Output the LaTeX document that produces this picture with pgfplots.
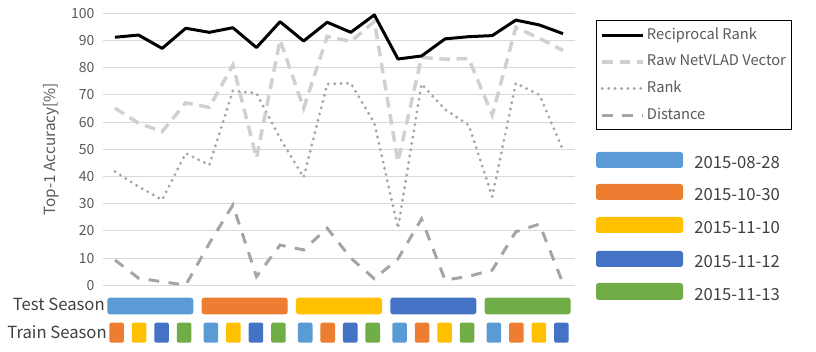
\documentclass[border=0pt]{standalone}
\usepackage{pgfplots}
\pgfplotsset{compat=1.18}
\usepackage{pgfplotstable}
\usepackage{fontspec}
\setmainfont{Noto Sans CJK JP}
\definecolor{cBlue}{HTML}{5B9BD5}
\definecolor{cOrange}{HTML}{ED7D31}
\definecolor{cYellow}{HTML}{FFC000}
\definecolor{cDBlue}{HTML}{4472C4}
\definecolor{cGreen}{HTML}{70AD47}
\definecolor{gridgray}{HTML}{D9D9D9}
\definecolor{tickgray}{HTML}{595959}
\definecolor{textgray}{HTML}{404040}
\definecolor{rawgray}{HTML}{D0D0D0}
\definecolor{rankgray}{HTML}{A5A5A5}
\definecolor{distgray}{HTML}{A5A5A5}
\pgfplotstableread{
x rr raw rank dist
0 91.2 65.1 41.8 9.3
1 92.0 59.6 36.3 2.6
2 87.1 56.5 31.4 1.3
3 94.5 67.1 48.5 0.1
4 93.0 65.4 44.2 15.4
5 94.7 81.0 71.5 29.5
6 87.4 46.8 70.6 3.2
7 96.9 90.2 54.0 14.8
8 89.8 65.1 39.7 13.0
9 96.7 91.5 74.0 21.0
10 93.0 89.6 74.3 10.0
11 99.4 97.0 59.6 2.4
12 83.2 45.4 21.0 9.7
13 84.3 83.8 74.0 24.4
14 90.6 83.1 64.6 1.9
15 91.4 83.4 58.9 3.3
16 91.8 62.6 32.6 5.6
17 97.5 94.8 74.3 19.7
18 95.7 90.8 70.0 22.5
19 92.5 86.3 49.7 0.7
}\data
\begin{document}
\begin{tikzpicture}
\begin{scope}[x=0.75pt,y=0.75pt]
\path[use as bounding box] (0,0) rectangle (816,352);
\end{scope}
\begin{axis}[
  at={(77.4pt,50.03pt)}, anchor=south west,
  scale only axis, width=353.7pt, height=204pt,
  xmin=-0.5, xmax=19.5, ymin=0, ymax=100,
  axis line style={draw=none},
  xtick=\empty,
  ytick={0,10,...,100},
  ymajorgrids, grid style={draw=gridgray, line width=0.75pt},
  major tick length=0pt,
  /pgf/number format/assume math mode=true,
  yticklabel style={font=\fontsize{10.5}{12}\selectfont, text=tickgray, xshift=-3pt},
  ylabel={Top-1 Accuracy[\%]},
  ylabel style={at={(axis description cs:-0.1107,0.5)}, anchor=center, font=\fontsize{11.5}{13}\selectfont, text=tickgray},
  clip=false,
  reverse legend,
  legend cell align=left,
  legend image code/.code={\draw[#1] (0pt,0pt) -- (30.75pt,0pt);},
  legend style={at={(rel axis cs:1.045,0.9754)}, anchor=north west, draw=black, line width=0.75pt,
    font=\fontsize{11}{13}\selectfont, text=tickgray, row sep=6pt, inner xsep=3pt, inner ysep=4pt,
    nodes={inner sep=1.5pt, text height=8.5pt, text depth=2.5pt}},
]
\addplot[draw=distgray, line width=2.25pt, dash pattern=on 8pt off 7pt] table[x=x,y=dist]{\data};
\addlegendentry{Distance}
\addplot[draw=rankgray, line width=2.4pt, line cap=round, dash pattern=on 0pt off 4.8pt] table[x=x,y=rank]{\data};
\addlegendentry{Rank}
\addplot[draw=rawgray, line width=2.6pt, dash pattern=on 8pt off 5pt] table[x=x,y=raw]{\data};
\addlegendentry{Raw NetVLAD Vector}
\addplot[draw=black, line width=2.25pt, line join=round] table[x=x,y=rr]{\data};
\addlegendentry{Reciprocal Rank}
% test season bars
\fill[cBlue, rounded corners=2pt] (axis cs:-0.325,-4.56) rectangle (axis cs:3.325,-10.66);
\fill[cOrange, rounded corners=2pt] (axis cs:3.675,-4.56) rectangle (axis cs:7.325,-10.66);
\fill[cYellow, rounded corners=2pt] (axis cs:7.675,-4.56) rectangle (axis cs:11.325,-10.66);
\fill[cDBlue, rounded corners=2pt] (axis cs:11.675,-4.56) rectangle (axis cs:15.325,-10.66);
\fill[cGreen, rounded corners=2pt] (axis cs:15.675,-4.56) rectangle (axis cs:19.325,-10.66);
% train season squares
\fill[cOrange, rounded corners=1.5pt] (axis cs:-0.241,-13.75) rectangle (axis cs:0.379,-21.1);
\fill[cYellow, rounded corners=1.5pt] (axis cs:0.713,-13.75) rectangle (axis cs:1.333,-21.1);
\fill[cDBlue, rounded corners=1.5pt] (axis cs:1.667,-13.75) rectangle (axis cs:2.287,-21.1);
\fill[cGreen, rounded corners=1.5pt] (axis cs:2.621,-13.75) rectangle (axis cs:3.241,-21.1);
\fill[cBlue, rounded corners=1.5pt] (axis cs:3.759,-13.75) rectangle (axis cs:4.379,-21.1);
\fill[cYellow, rounded corners=1.5pt] (axis cs:4.713,-13.75) rectangle (axis cs:5.333,-21.1);
\fill[cDBlue, rounded corners=1.5pt] (axis cs:5.667,-13.75) rectangle (axis cs:6.287,-21.1);
\fill[cGreen, rounded corners=1.5pt] (axis cs:6.621,-13.75) rectangle (axis cs:7.241,-21.1);
\fill[cBlue, rounded corners=1.5pt] (axis cs:7.759,-13.75) rectangle (axis cs:8.379,-21.1);
\fill[cOrange, rounded corners=1.5pt] (axis cs:8.713,-13.75) rectangle (axis cs:9.333,-21.1);
\fill[cDBlue, rounded corners=1.5pt] (axis cs:9.667,-13.75) rectangle (axis cs:10.287,-21.1);
\fill[cGreen, rounded corners=1.5pt] (axis cs:10.621,-13.75) rectangle (axis cs:11.241,-21.1);
\fill[cBlue, rounded corners=1.5pt] (axis cs:11.759,-13.75) rectangle (axis cs:12.379,-21.1);
\fill[cOrange, rounded corners=1.5pt] (axis cs:12.713,-13.75) rectangle (axis cs:13.333,-21.1);
\fill[cYellow, rounded corners=1.5pt] (axis cs:13.667,-13.75) rectangle (axis cs:14.287,-21.1);
\fill[cGreen, rounded corners=1.5pt] (axis cs:14.621,-13.75) rectangle (axis cs:15.241,-21.1);
\fill[cBlue, rounded corners=1.5pt] (axis cs:15.759,-13.75) rectangle (axis cs:16.379,-21.1);
\fill[cOrange, rounded corners=1.5pt] (axis cs:16.713,-13.75) rectangle (axis cs:17.333,-21.1);
\fill[cYellow, rounded corners=1.5pt] (axis cs:17.667,-13.75) rectangle (axis cs:18.287,-21.1);
\fill[cDBlue, rounded corners=1.5pt] (axis cs:18.621,-13.75) rectangle (axis cs:19.241,-21.1);
\end{axis}
\begin{scope}[x=0.75pt,y=0.75pt]
% row labels
\node[anchor=base east, text=textgray, font=\fontsize{12.5}{14}\selectfont, inner sep=0pt] at (105,41.3) {Test Season};
\node[anchor=base east, text=textgray, font=\fontsize{12.5}{14}\selectfont, inner sep=0pt] at (107,13.7) {Train Season};
% season colour key
\fill[cBlue, rounded corners=2pt] (596,184) rectangle (683,200);
\fill[cOrange, rounded corners=2pt] (596,152) rectangle (683,168);
\fill[cYellow, rounded corners=2pt] (596,119) rectangle (683,135);
\fill[cDBlue, rounded corners=2pt] (596,85) rectangle (683,101);
\fill[cGreen, rounded corners=2pt] (596,52) rectangle (683,69);
\begin{scope}[every node/.style={anchor=base west, text=textgray, font=\fontsize{12.5}{14}\selectfont, inner sep=0pt}]
\node at (694,183.7) {2015-08-28};
\node at (694,151.7) {2015-10-30};
\node at (694,118.7) {2015-11-10};
\node at (694,84.7) {2015-11-12};
\node at (694,51.7) {2015-11-13};
\end{scope}
\end{scope}
\end{tikzpicture}
\end{document}
